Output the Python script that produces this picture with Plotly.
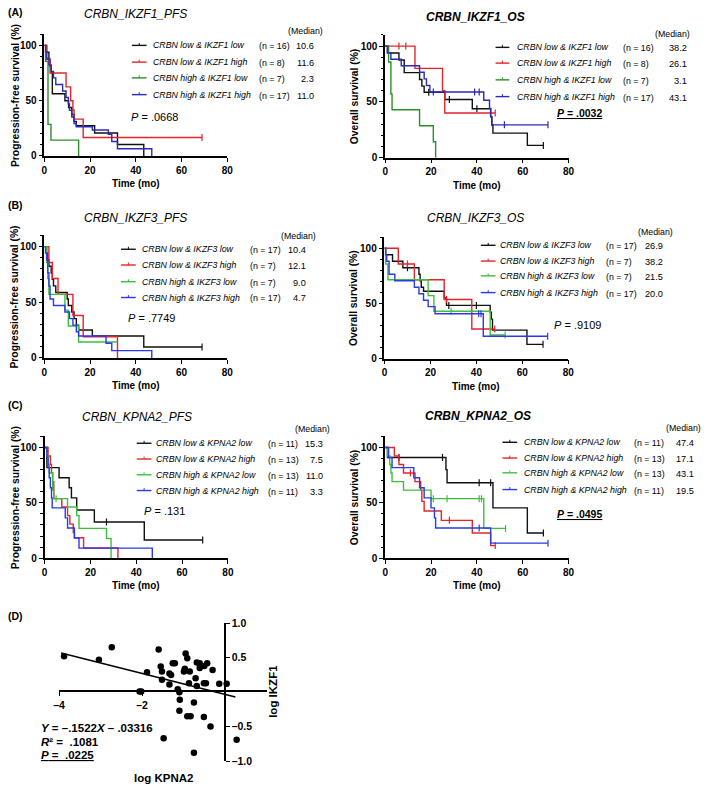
import plotly.graph_objects as go

W, H = 709, 791
FONT = "Liberation Sans, Arial, Helvetica, sans-serif"

# ---------------- data ----------------
# Panel A (left): CRBN_IKZF1_PFS  (time in months, survival in %)
a_pfs_ll_t = [0, 1, 2, 2.5, 3, 3.5, 9, 10.6, 12, 13, 14, 22, 32, 43.5]
a_pfs_ll_s = [100, 93.8, 87.5, 81.3, 75, 56.3, 50, 43.8, 37.5, 31.3, 27.3, 20.8, 10.4, 0]
a_pfs_lh_t = [0, 1, 2.5, 9.5, 11.5, 12.5, 13, 17]
a_pfs_lh_s = [100, 87.5, 75, 62.5, 50, 41.7, 33.3, 16.7]
a_pfs_hl_t = [0, 0.5, 1.6, 2.9, 15]
a_pfs_hl_s = [100, 85.7, 28.6, 14.3, 0]
a_pfs_hh_t = [0, 0.5, 1, 2, 3, 4, 5, 8, 9.5, 10.5, 11, 12, 13, 14, 21, 28, 29.5, 32, 47]
a_pfs_hh_s = [100, 94.1, 88.2, 82.4, 76.5, 70.6, 64.7, 58.8, 52.9, 47.1, 41.2, 35.3, 29.4, 26.5, 23.5, 19.6, 13.1, 6.5, 0]
a_pfs_end = [43.5, 69, 15, 47]
a_pfs_cens = [[], [69], [], []]

# Panel A (right): CRBN_IKZF1_OS
a_os_ll_t = [0, 1, 6, 8.3, 15, 16, 17, 26, 38, 46, 46.5, 47, 62]
a_os_ll_s = [100, 93.8, 87.5, 76.2, 70.1, 64.1, 58.6, 52.1, 43.9, 36.6, 29.3, 22, 11]
a_os_lh_t = [0, 13, 25, 26]
a_os_lh_s = [100, 80, 60, 40]
a_os_hl_t = [0, 1.5, 2.5, 3, 15, 21, 22]
a_os_hl_s = [100, 85.7, 57.1, 42.9, 28.6, 14.3, 0]
a_os_hh_t = [0, 1, 2.5, 7, 15, 17, 18, 19.5, 43, 45.5, 46, 46.5]
a_os_hh_s = [100, 94.1, 88.2, 82.4, 76.5, 70.6, 64.7, 58.8, 51.5, 44.1, 36.8, 29.4]
a_os_end = [69, 48, 22, 71]
a_os_cens = [[19, 28, 40, 69], [6, 9, 48], [], [21, 39, 41, 52, 71]]

# Panel B (left): CRBN_IKZF3_PFS
b_pfs_ll_t = [0, 1, 1.5, 2, 3, 3.5, 4, 5, 10, 10.5, 12, 13, 14, 15, 21, 43.5]
b_pfs_ll_s = [100, 94.1, 88.2, 82.4, 76.5, 70.6, 64.7, 58.8, 52.9, 47.1, 41.2, 35.3, 29.4, 25, 19.6, 9.8]
b_pfs_lh_t = [0, 2, 3.5, 6, 12.5, 17, 32]
b_pfs_lh_s = [100, 85.7, 71.4, 57.1, 38.1, 19, 0]
b_pfs_hl_t = [0, 1, 1.5, 2, 9, 10.5, 15]
b_pfs_hl_s = [100, 85.7, 71.4, 57.1, 42.9, 28.6, 14.3]
b_pfs_hh_t = [0, 0.5, 1, 1.5, 2, 2.5, 4, 9, 11, 12.5, 14, 15, 27, 29.5, 47]
b_pfs_hh_s = [100, 94.1, 88.2, 76.5, 64.7, 52.9, 47.1, 41.2, 35.3, 29.4, 23.5, 19.6, 13.1, 6.5, 0]
b_pfs_end = [69, 32, 32, 47]
b_pfs_cens = [[69], [], [], []]

# Panel B (right): CRBN_IKZF3_OS
b_os_ll_t = [0, 0.5, 3.5, 8, 15, 15.5, 16, 17, 26, 27, 46, 46.5, 47, 62]
b_os_ll_s = [100, 94.1, 88.2, 82.4, 76.5, 70.6, 64.7, 61, 54.9, 48.2, 42, 35.8, 25.8, 12.9]
b_os_lh_t = [0, 6, 13, 26, 38]
b_os_lh_s = [100, 85.7, 71.4, 53.6, 26.8]
b_os_hl_t = [0, 0.5, 1.5, 19, 21.5, 46]
b_os_hl_s = [100, 85.7, 71.4, 57.1, 42.9, 21.4]
b_os_hh_t = [0, 0.5, 1, 2, 4.5, 13, 15, 17, 19, 22, 43]
b_os_hh_s = [100, 94.1, 88.2, 76.5, 70.6, 64.7, 58.8, 52.9, 47.1, 40.6, 20.3]
b_os_end = [69, 48, 52.5, 71]
b_os_cens = [[10, 28, 40, 69], [10, 27, 48], [29, 52.5], [41, 42, 71]]

# Panel C (left): CRBN_KPNA2_PFS
c_pfs_ll_t = [0, 1, 6.3, 10.7, 11.7, 14, 21.7, 43.5]
c_pfs_ll_s = [100, 81.8, 72.7, 63.6, 54.5, 43.6, 32.7, 16.4]
c_pfs_lh_t = [0, 1.5, 2.5, 3, 3.5, 4, 7.5, 10, 11, 12.5, 13, 17, 32]
c_pfs_lh_s = [100, 92.3, 84.6, 76.9, 69.2, 53.8, 46.2, 38.5, 30.8, 23.1, 18.5, 9.2, 0]
c_pfs_hl_t = [0, 1, 1.5, 2, 3.5, 4, 10, 14, 15, 27, 29]
c_pfs_hl_s = [100, 92.3, 84.6, 76.9, 61.5, 53.8, 46.2, 38.5, 26.9, 17.9, 0]
c_pfs_hh_t = [0, 1, 1.5, 2, 2.5, 3, 3.3, 9, 10, 13, 15, 47]
c_pfs_hh_s = [100, 90.9, 81.8, 72.7, 63.6, 54.5, 45.5, 36.4, 27.3, 18.2, 9.1, 0]
c_pfs_end = [69, 32, 29, 47]
c_pfs_cens = [[27, 69], [], [5], []]

# Panel C (right): CRBN_KPNA2_OS
c_os_ll_t = [0, 1, 26.5, 27, 47, 62]
c_os_ll_s = [100, 90.9, 80, 68.2, 45.5, 22.7]
c_os_lh_t = [0, 4, 6, 8, 13, 15.5, 16, 17, 24.5, 38, 46]
c_os_lh_s = [100, 92.3, 84.6, 76.9, 69.2, 61.5, 51.3, 42.7, 34.2, 22.8, 11.4]
c_os_hl_t = [0, 1, 2, 2.5, 3, 8, 20, 43]
c_os_hl_s = [100, 92.3, 84.6, 76.9, 69.2, 61.5, 53.8, 26.9]
c_os_hh_t = [0, 1.5, 3, 12.5, 15, 17, 20, 21.5, 22, 46]
c_os_hh_s = [100, 90.9, 81.8, 72.7, 63.6, 54.5, 45.5, 36.4, 27.3, 13.6]
c_os_end = [69, 48, 52.5, 71]
c_os_cens = [[6, 25, 41, 46, 69], [11, 28, 48], [21, 27, 41, 42, 52.5], [41, 71]]

ikzf1_groups = ["CRBN low & IKZF1 low", "CRBN low & IKZF1 high", "CRBN high & IKZF1 low", "CRBN high & IKZF1 high"]
ikzf3_groups = ["CRBN low & IKZF3 low", "CRBN low & IKZF3 high", "CRBN high & IKZF3 low", "CRBN high & IKZF3 high"]
kpna2_groups = ["CRBN low & KPNA2 low", "CRBN low & KPNA2 high", "CRBN high & KPNA2 low", "CRBN high & KPNA2 high"]

a_n = [16, 8, 7, 17]
b_n = [17, 7, 7, 17]
c_n = [11, 13, 13, 11]
a_pfs_med = ["10.6", "11.6", "2.3", "11.0"]
a_os_med = ["38.2", "26.1", "3.1", "43.1"]
b_pfs_med = ["10.4", "12.1", "9.0", "4.7"]
b_os_med = ["26.9", "38.2", "21.5", "20.0"]
c_pfs_med = ["15.3", "7.5", "11.0", "3.3"]
c_os_med = ["47.4", "17.1", "43.1", "19.5"]
p_values = [".0668", ".0032", ".7749", ".9109", ".131", ".0495"]

# Panel D: scatter log KPNA2 vs log IKZF1
log_kpna2 = [-3.88, -3.04, -2.73, -1.60, -0.95, -1.88, -2.06, -2.02, -1.55, -1.52,
             -1.52, -1.34, -1.30, -1.34, -1.26, -1.21, -1.14, -1.10, -1.09, -1.10,
             -0.91, -0.97, -0.99, -0.85, -0.87, -0.71, -0.68, -0.61, -0.61, -0.50,
             -0.43, -0.30, -0.68, -0.51, -0.46, -0.14, 0.04, -0.75, -0.91, -0.83,
             -0.51, -0.35, -1.48, -0.75, 0.28]
log_ikzf1 = [0.52, 0.47, 0.65, 0.62, 0.56, 0.29, 0.01, 0.01, 0.37, 0.30,
             0.18, 0.27, 0.25, 0.11, 0.42, 0.42, 0.04, 0.00, -0.11, -0.27,
             0.49, 0.34, 0.30, 0.30, 0.13, 0.20, 0.43, 0.42, 0.35, 0.38,
             0.42, 0.32, 0.09, 0.13, 0.13, 0.12, 0.12, -0.15, -0.35, -0.35,
             -0.36, -0.50, -0.67, -0.88, -0.69]
reg_slope = -0.1522
reg_intercept = -0.03316
reg_x_extent = [-3.95, 0.25]

# ---------------- styling ----------------
BLACK = "#111111"
RED = "#e3242b"
GREEN_D = "#2a8f2a"
GREEN_L = "#3cc03c"
BLUE_D = "#2b2bb5"
BLUE_L = "#2a3ae8"


def X(p):
    return p / W


def Y(p):
    return 1 - p / H


def surv_at(t, s, c):
    v = s[0]
    for ti, si in zip(t, s):
        if ti <= c:
            v = si
    return v


panels = [
    dict(x0=39, x80=225, y0=152.3, y100=40,
         title="CRBN_IKZF1_PFS", tbold=False, tx=132, ty=8,
         ylab="Progression-free survival (%)", ylx=9,
         curves=[(a_pfs_ll_t, a_pfs_ll_s), (a_pfs_lh_t, a_pfs_lh_s), (a_pfs_hl_t, a_pfs_hl_s), (a_pfs_hh_t, a_pfs_hh_s)],
         ends=a_pfs_end, cens=a_pfs_cens, colors=[BLACK, RED, GREEN_D, BLUE_D],
         groups=ikzf1_groups, ns=a_n, meds=a_pfs_med,
         lx0=128, lx1=143, labx=150, nx=257, medx=313, rows=[40, 57, 73, 90], mhx=322, mhy=25,
         p=p_values[0], pxp=127, pyp=113, pbold=False),
    dict(x0=385.7, x80=572.3, y0=154, y100=40.7,
         title="CRBN_IKZF1_OS", tbold=True, tx=478, ty=11,
         ylab="Overall survival (%)", ylx=354,
         curves=[(a_os_ll_t, a_os_ll_s), (a_os_lh_t, a_os_lh_s), (a_os_hl_t, a_os_hl_s), (a_os_hh_t, a_os_hh_s)],
         ends=a_os_end, cens=a_os_cens, colors=[BLACK, RED, GREEN_D, BLUE_D],
         groups=ikzf1_groups, ns=a_n, meds=a_os_med,
         lx0=498, lx1=512, labx=520, nx=628, medx=693, rows=[42, 58, 75, 92], mhx=696, mhy=28,
         p=p_values[1], pxp=560, pyp=109, pbold=True),
    dict(x0=39, x80=225, y0=357.3, y100=244.3,
         title="CRBN_IKZF3_PFS", tbold=False, tx=132, ty=215,
         ylab="Progression-free survival (%)", ylx=9,
         curves=[(b_pfs_ll_t, b_pfs_ll_s), (b_pfs_lh_t, b_pfs_lh_s), (b_pfs_hl_t, b_pfs_hl_s), (b_pfs_hh_t, b_pfs_hh_s)],
         ends=b_pfs_end, cens=b_pfs_cens, colors=[BLACK, RED, GREEN_L, BLUE_L],
         groups=ikzf3_groups, ns=b_n, meds=b_pfs_med,
         lx0=117, lx1=132, labx=138, nx=248, medx=305, rows=[247, 263, 280, 296], mhx=315, mhy=234,
         p=p_values[2], pxp=124, pyp=317, pbold=False),
    dict(x0=385, x80=572, y0=358, y100=246,
         title="CRBN_IKZF3_OS", tbold=False, tx=478, ty=215,
         ylab="Overall survival (%)", ylx=354,
         curves=[(b_os_ll_t, b_os_ll_s), (b_os_lh_t, b_os_lh_s), (b_os_hl_t, b_os_hl_s), (b_os_hh_t, b_os_hh_s)],
         ends=b_os_end, cens=b_os_cens, colors=[BLACK, RED, GREEN_L, BLUE_L],
         groups=ikzf3_groups, ns=b_n, meds=b_os_med,
         lx0=483, lx1=498, labx=503, nx=610, medx=668, rows=[243, 259, 274, 291], mhx=678, mhy=229,
         p=p_values[3], pxp=557, pyp=324, pbold=False),
    dict(x0=39.3, x80=225.7, y0=560.7, y100=448.3,
         title="CRBN_KPNA2_PFS", tbold=False, tx=133, ty=417,
         ylab="Progression-free survival (%)", ylx=9,
         curves=[(c_pfs_ll_t, c_pfs_ll_s), (c_pfs_lh_t, c_pfs_lh_s), (c_pfs_hl_t, c_pfs_hl_s), (c_pfs_hh_t, c_pfs_hh_s)],
         ends=c_pfs_end, cens=c_pfs_cens, colors=[BLACK, RED, GREEN_L, BLUE_L],
         groups=kpna2_groups, ns=c_n, meds=c_pfs_med,
         lx0=133, lx1=148, labx=153, nx=267, medx=322, rows=[444, 460, 476, 492], mhx=330, mhy=430,
         p=p_values[4], pxp=140, pyp=513, pbold=False),
    dict(x0=385.7, x80=572.3, y0=560.7, y100=448.3,
         title="CRBN_KPNA2_OS", tbold=True, tx=480, ty=416,
         ylab="Overall survival (%)", ylx=354,
         curves=[(c_os_ll_t, c_os_ll_s), (c_os_lh_t, c_os_lh_s), (c_os_hl_t, c_os_hl_s), (c_os_hh_t, c_os_hh_s)],
         ends=c_os_end, cens=c_os_cens, colors=[BLACK, RED, GREEN_L, BLUE_L],
         groups=kpna2_groups, ns=c_n, meds=c_os_med,
         lx0=505, lx1=520, labx=527, nx=639, medx=700, rows=[443, 459, 474, 491], mhx=707, mhy=429,
         p=p_values[5], pxp=560, pyp=516, pbold=True),
]

fig = go.Figure()
annotations = []
shapes = []
layout_axes = {}


def ann(text, x, y, size, xanchor="left", yanchor="middle", angle=0, color="black"):
    annotations.append(dict(text=text, x=X(x), y=Y(y), xref="paper", yref="paper",
                            xanchor=xanchor, yanchor=yanchor, showarrow=False, textangle=angle,
                            borderpad=0, borderwidth=0,
                            font=dict(family=FONT, size=size, color=color)))


TICKFONT = dict(family=FONT, size=10, color="black", weight="bold")
LEG = 8.8

for i, p in enumerate(panels, start=1):
    xa = "x" if i == 1 else f"x{i}"
    ya = "y" if i == 1 else f"y{i}"
    xkey = "xaxis" if i == 1 else f"xaxis{i}"
    ykey = "yaxis" if i == 1 else f"yaxis{i}"
    ytop = p["y0"] - 1.1 * (p["y0"] - p["y100"])
    layout_axes[xkey] = dict(domain=[X(p["x0"]), X(p["x80"])], range=[0, 80], anchor=ya,
                             tickmode="linear", tick0=0, dtick=20, ticks="outside", ticklen=4,
                             tickwidth=1.3, tickcolor="black", showline=True, linecolor="black",
                             linewidth=1.5, showgrid=False, zeroline=False, tickfont=TICKFONT)
    layout_axes[ykey] = dict(domain=[Y(p["y0"]), Y(ytop)], range=[0, 110], anchor=xa,
                             tickmode="linear", tick0=0, dtick=50, ticks="outside", ticklen=4,
                             tickwidth=1.3, tickcolor="black", showline=True, linecolor="black",
                             linewidth=1.5, showgrid=False, zeroline=False, tickfont=TICKFONT,
                             minor=dict(dtick=10, ticks="outside", ticklen=2.5, tickcolor="black",
                                        tickwidth=1, showgrid=False))
    for (t, s), end, cens, col in zip(p["curves"], p["ends"], p["cens"], p["colors"]):
        xs = list(t) + ([end] if end > t[-1] else [])
        ys = list(s) + ([s[-1]] if end > t[-1] else [])
        fig.add_trace(go.Scatter(x=xs, y=ys, mode="lines", xaxis=xa, yaxis=ya,
                                 line=dict(color=col, width=1.4, shape="hv"),
                                 showlegend=False, hoverinfo="skip"))
        if cens:
            fig.add_trace(go.Scatter(x=cens, y=[surv_at(t, s, c) for c in cens], mode="markers",
                                     xaxis=xa, yaxis=ya, showlegend=False, hoverinfo="skip",
                                     marker=dict(symbol="line-ns", size=5,
                                                 line=dict(color=col, width=1.2))))
    # title
    ttxt = f"<i>{p['title']}</i>"
    if p["tbold"]:
        ttxt = f"<b>{ttxt}</b>"
    ann(ttxt, p["tx"], p["ty"], 12, xanchor="center")
    # axis titles
    ann("<b>Time (mo)</b>", (p["x0"] + p["x80"]) / 2, p["y0"] + 28, 10, xanchor="center")
    ann(f"<b>{p['ylab']}</b>", p["ylx"], (p["y0"] + ytop) / 2, 10.3, xanchor="center", angle=-90)
    # legend block
    ann("(Median)", p["mhx"], p["mhy"], LEG, xanchor="right")
    for grp, n, med, row, col in zip(p["groups"], p["ns"], p["meds"], p["rows"], p["colors"]):
        shapes.append(dict(type="line", xref="paper", yref="paper", x0=X(p["lx0"]), x1=X(p["lx1"]),
                           y0=Y(row), y1=Y(row), line=dict(color=col, width=1.4)))
        mid = (p["lx0"] + p["lx1"]) / 2
        shapes.append(dict(type="line", xref="paper", yref="paper", x0=X(mid), x1=X(mid),
                           y0=Y(row - 2.5), y1=Y(row), line=dict(color=col, width=1)))
        ann(f"<i>{grp}</i>", p["labx"], row, LEG)
        ann(f"(n = {n})", p["nx"], row + 1, LEG)
        ann(med, p["medx"], row + 1, 9.2, xanchor="right")
    if p["pbold"]:
        ann(f"<b><u><i>P</i> = {p['p']}</u></b>", p["pxp"], p["pyp"], 10.5)
    else:
        ann(f"<i>P</i> = {p['p']}", p["pxp"], p["pyp"], 11)

# panel letters
ann("<b>(A)</b>", 2, 6, 10.5)
ann("<b>(B)</b>", 2, 202, 10.5)
ann("<b>(C)</b>", 2, 405, 10.5)
ann("<b>(D)</b>", 2, 619, 10.5)

# ---------------- panel D ----------------
fig.add_trace(go.Scatter(x=log_kpna2, y=log_ikzf1, mode="markers", xaxis="x7", yaxis="y7",
                         marker=dict(color="black", size=6.5), showlegend=False, hoverinfo="skip"))
reg_y = [reg_slope * v + reg_intercept for v in reg_x_extent]
fig.add_trace(go.Scatter(x=reg_x_extent, y=reg_y, mode="lines", xaxis="x7", yaxis="y7",
                         line=dict(color="black", width=1.5), showlegend=False, hoverinfo="skip"))

layout_axes["xaxis7"] = dict(domain=[X(54), X(265)], range=[-4, 1], anchor="free", position=Y(696),
                             tickmode="array", tickvals=[-4, -2], ticktext=["\u20134", "\u20132"],
                             ticks="outside", ticklen=4, tickwidth=1.3, tickcolor="black",
                             showline=True, linecolor="black", linewidth=1.5, showgrid=False,
                             zeroline=False, tickfont=dict(family=FONT, size=10.5, color="black", weight="bold"))
layout_axes["yaxis7"] = dict(domain=[Y(766.7), Y(626.7)], range=[-1, 1], anchor="free", position=X(222.6),
                             side="right", tickmode="array", tickvals=[-1, -0.5, 0.5, 1],
                             ticktext=["\u20131.0", "\u20130.5", "0.5", "1.0"],
                             ticks="outside", ticklen=4, tickwidth=1.3, tickcolor="black",
                             showline=True, linecolor="black", linewidth=1.5, showgrid=False,
                             zeroline=False, tickfont=dict(family=FONT, size=10.5, color="black", weight="bold"))

ann("<b><i>Y</i> = \u2013.1522<i>X</i> \u2013 .03316</b>", 36, 733, 11.5)
ann("<b><i>R</i>\u00b2 =  .1081</b>", 36, 747, 11.5)
ann("<b><u><i>P</i> =  .0225</u></b>", 36, 761, 11.5)
ann("<b>log KPNA2</b>", 160, 784, 11.5, xanchor="center")
ann("<b>log IKZF1</b>", 272, 696, 11.5, xanchor="center", angle=-90)

fig.update_layout(width=W, height=H, margin=dict(l=0, r=0, t=0, b=0),
                  paper_bgcolor="white", plot_bgcolor="white", showlegend=False,
                  annotations=annotations, shapes=shapes, font=dict(family=FONT, color="black"),
                  **layout_axes)

fig.write_html("out.html", config={"displayModeBar": False},
               post_script="document.body.style.margin='0px';document.body.style.overflow='hidden';")
